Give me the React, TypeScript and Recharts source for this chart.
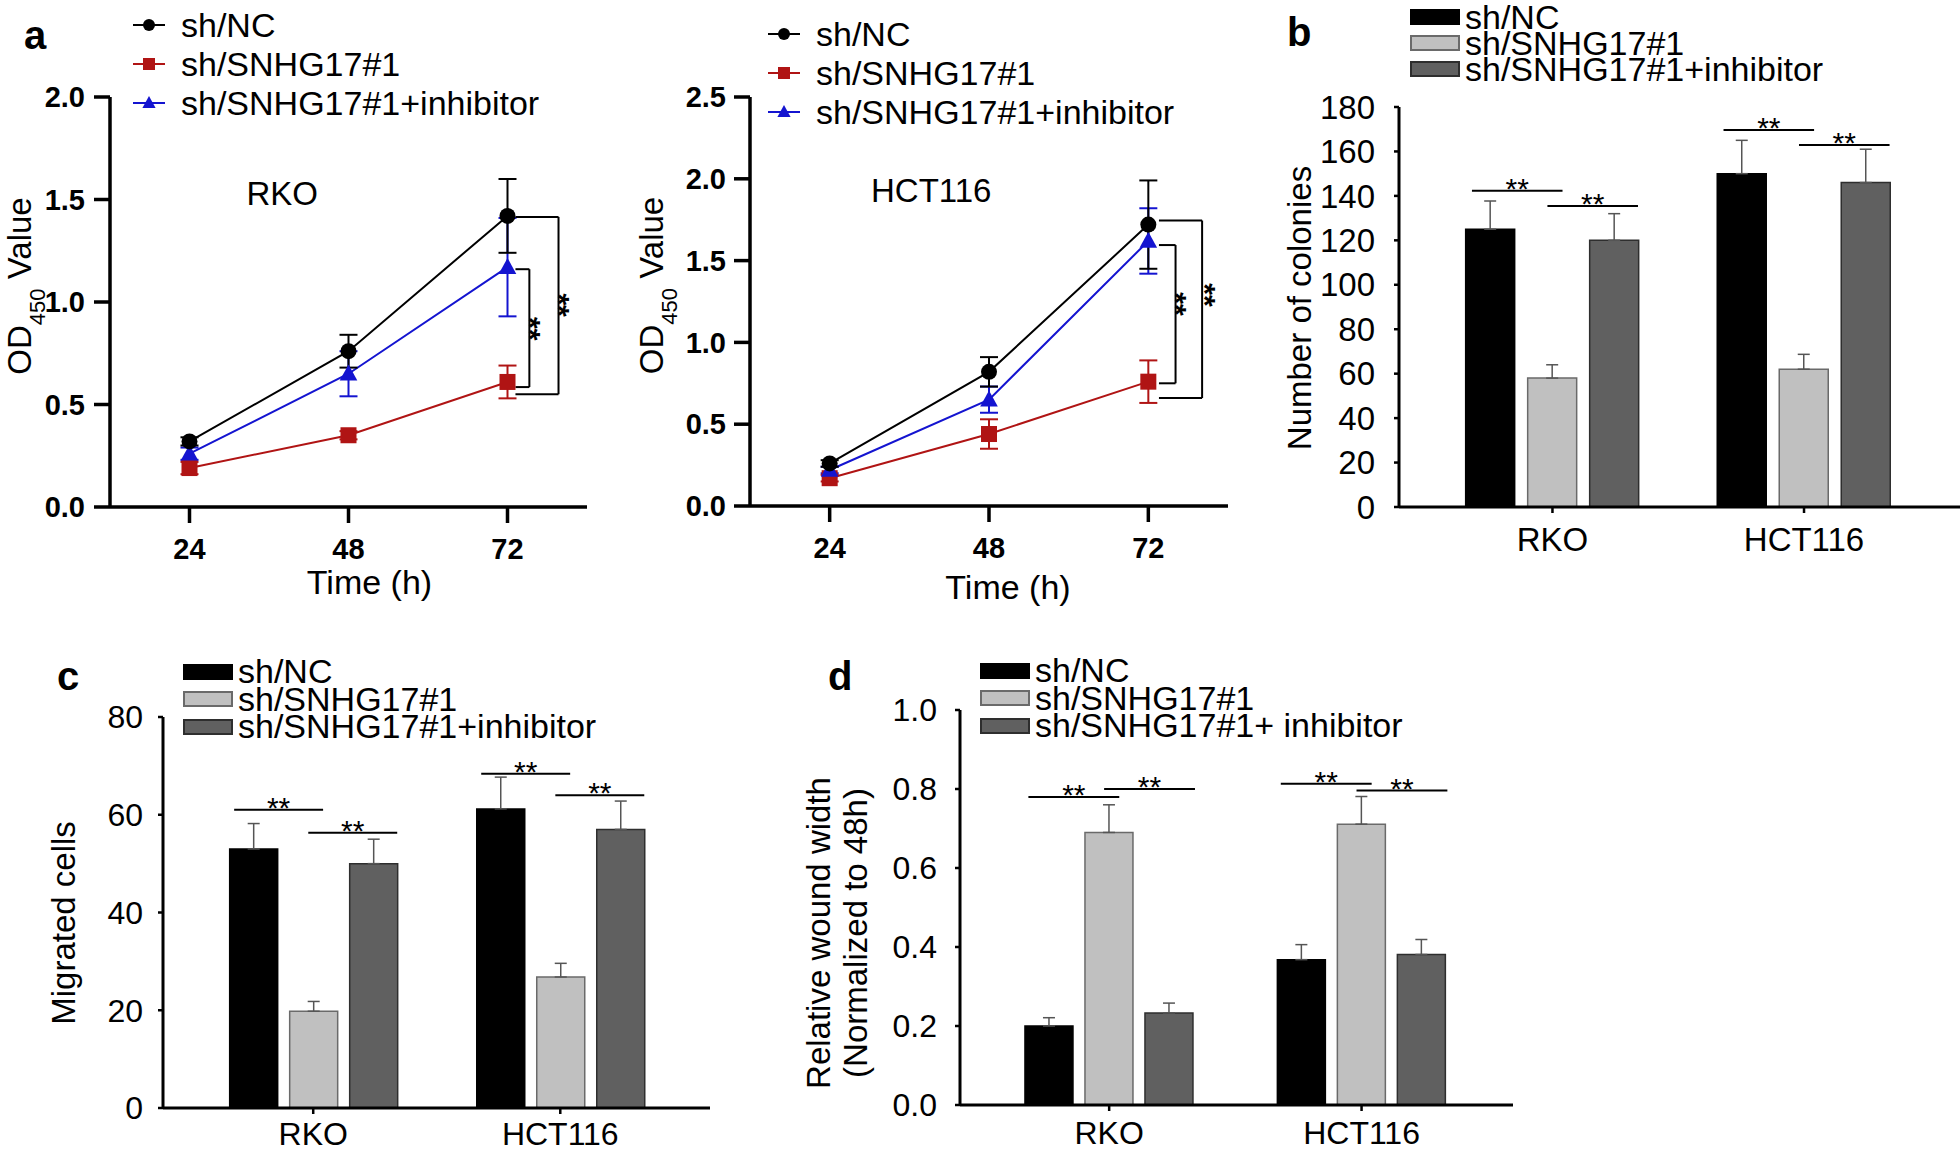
import React from 'react';
import {
  LineChart, Line, BarChart, Bar, XAxis, YAxis, ErrorBar, Legend, ReferenceLine, ReferenceDot,
} from 'recharts';

const FONT = '"Liberation Sans", Arial, Helvetica, sans-serif';

// panel a: OD450 growth curves
const hours = [24, 48, 72];

const rkoNc = [0.32, 0.76, 1.42];
const rkoNcSd = [0.02, 0.08, 0.18];
const rkoSh = [0.19, 0.35, 0.61];
const rkoShSd = [0.03, 0.02, 0.08];
const rkoInh = [0.26, 0.65, 1.17];
const rkoInhSd = [0.03, 0.11, 0.24];

const hctNc = [0.26, 0.82, 1.72];
const hctNcSd = [0.02, 0.09, 0.27];
const hctSh = [0.17, 0.44, 0.76];
const hctShSd = [0.02, 0.09, 0.13];
const hctInh = [0.22, 0.65, 1.62];
const hctInhSd = [0.02, 0.08, 0.2];

// panels b-d: bar charts
const cellLines = ['RKO', 'HCT116'];

const colonyNc = [125, 150];
const colonyNcSd = [12.7, 15];
const colonySh = [58, 62];
const colonyShSd = [6, 6.7];
const colonyInh = [120, 146];
const colonyInhSd = [12, 15];

const migNc = [53, 61.2];
const migNcSd = [5.2, 6.5];
const migSh = [19.8, 26.8];
const migShSd = [2, 2.8];
const migInh = [50, 57];
const migInhSd = [5, 5.8];

const woundNc = [0.2, 0.368];
const woundNcSd = [0.021, 0.038];
const woundSh = [0.69, 0.711];
const woundShSd = [0.07, 0.07];
const woundInh = [0.233, 0.381];
const woundInhSd = [0.025, 0.038];

// significance bar heights [first pair, second pair] per cell line
const colonySig = [[142.3, 135.5], [169.6, 162.9]];
const migSig = [[61, 56.3], [68.4, 64]];
const woundSig = [[0.78, 0.8], [0.813, 0.796]];
const sigSpans = [[-0.32, 0.04], [-0.02, 0.34]];

type Bracket = { x0: number; x1: number; top: number; bottom: number; star: [number, number] };

const rkoBrackets: Bracket[] = [
  { x0: 73.2, x1: 75.3, top: 1.16, bottom: 0.585, star: [76.5, 0.87] },
  { x0: 73.2, x1: 79.7, top: 1.415, bottom: 0.55, star: [80.9, 0.985] },
];
const hctBrackets: Bracket[] = [
  { x0: 73.6, x1: 76.1, top: 1.595, bottom: 0.75, star: [77.3, 1.235] },
  { x0: 73.6, x1: 80.1, top: 1.745, bottom: 0.66, star: [81.6, 1.29] },
];

const lineSeries = [
  { key: 'nc', name: 'sh/NC', color: '#000000', shape: 'circle' },
  { key: 'sh', name: 'sh/SNHG17#1', color: '#b01414', shape: 'square' },
  { key: 'inh', name: 'sh/SNHG17#1+inhibitor', color: '#1414d0', shape: 'triangle' },
];
const drawOrder = ['sh', 'inh', 'nc'];

const barSeries = [
  { key: 'nc', name: 'sh/NC', fill: '#000000', stroke: '#000000' },
  { key: 'sh', name: 'sh/SNHG17#1', fill: '#c0c0c0', stroke: '#6a6a6a' },
  { key: 'inh', name: 'sh/SNHG17#1+inhibitor', fill: '#606060', stroke: '#2e2e2e' },
];

function marker(shape: string, cx: number, cy: number, s: number, color: string, key?: any) {
  if (shape === 'circle') return <circle key={key} cx={cx} cy={cy} r={s} fill={color} />;
  if (shape === 'square') return <rect key={key} x={cx - s} y={cy - s} width={2 * s} height={2 * s} fill={color} />;
  return (
    <path key={key} d={`M${cx},${cy - s * 1.15}L${cx + s * 1.1},${cy + s * 0.85}L${cx - s * 1.1},${cy + s * 0.85}Z`} fill={color} />
  );
}

const starsVertical = (p: any) => {
  const { x, y, width, height } = p.viewBox;
  const cx = x + width / 2;
  const cy = y + height / 2;
  return (
    <text x={cx} y={cy} dy="0.57em" textAnchor="middle" transform={`rotate(90 ${cx} ${cy})`}
      fontSize={30} fontWeight={700} fontFamily={FONT} fill="#000">**</text>
  );
};

const starsAbove = (p: any) => {
  const { x, y, width } = p.viewBox;
  const cx = x + width / 2;
  const cy = y - 9;
  return (
    <text x={cx} y={cy} dy="0.57em" textAnchor="middle" fontSize={30} fontFamily={FONT} fill="#000">**</text>
  );
};

const titleLabel = (text: string) => (p: any) => {
  const { x, y, width, height } = p.viewBox;
  return (
    <text x={x + width / 2} y={y + height / 2} dy="0.36em" textAnchor="middle" fontSize={33} fontFamily={FONT} fill="#000">
      {text}
    </text>
  );
};

const odLabel = (bx: number, dy: number) => (p: any) => {
  const { x, y, height } = p.viewBox;
  const lx = x + bx;
  const ly = y + height / 2 + dy;
  return (
    <text x={lx} y={ly} transform={`rotate(-90 ${lx} ${ly})`} textAnchor="middle" fontSize={33} fontFamily={FONT} fill="#000">
      OD<tspan fontSize={22} dy={14}>450</tspan><tspan dy={-14}> Value</tspan>
    </text>
  );
};

const rotatedLabel = (lines: string[], xs: number[], dy: number) => (p: any) => {
  const { x, y, height } = p.viewBox;
  const cy = y + height / 2 + dy;
  return (
    <g>
      {lines.map((t, i) => (
        <text key={t} x={x + xs[i]} y={cy} transform={`rotate(-90 ${x + xs[i]} ${cy})`} textAnchor="middle"
          fontSize={33} fontFamily={FONT} fill="#000">{t}</text>
      ))}
    </g>
  );
};

const timeLabel = (dx: number, off: number) => (p: any) => {
  const { x, y, width, height } = p.viewBox;
  return (
    <text x={x + width / 2 + dx} y={y + height - off} textAnchor="middle" fontSize={34} fontFamily={FONT} fill="#000">
      Time (h)
    </text>
  );
};

const LineLegend = (p: any) => {
  const payload = p.payload || [];
  return (
    <div style={{ fontFamily: FONT, fontSize: 34, color: '#000' }}>
      {lineSeries.map((s) => {
        const item = payload.find((it: any) => it.dataKey === s.key);
        return (
          <div key={s.key} style={{ display: 'flex', alignItems: 'center', height: 39.3, whiteSpace: 'nowrap' }}>
            <svg width={32} height={20}>
              <line x1={0} y1={10} x2={32} y2={10} stroke={s.color} strokeWidth={2} />
              {marker(s.shape, 16, 10, 6, s.color)}
            </svg>
            <span style={{ marginLeft: 16, lineHeight: '38px' }}>{item ? item.value : s.name}</span>
          </div>
        );
      })}
    </div>
  );
};

const barLegend = (names: string[], rowH: number) => (p: any) => {
  const payload = p.payload || [];
  return (
    <div style={{ fontFamily: FONT, fontSize: 34, color: '#000' }}>
      {barSeries.map((s, i) => {
        const item = payload.find((it: any) => it.dataKey === s.key);
        return (
          <div key={s.key} style={{ display: 'flex', alignItems: 'center', height: rowH, whiteSpace: 'nowrap' }}>
            <span style={{ display: 'inline-block', width: 50, height: 16, background: s.fill,
              border: `2px solid ${s.stroke}`, boxSizing: 'border-box' }} />
            <span style={{ marginLeft: 5, lineHeight: `${rowH}px` }}>{names[i] || (item ? item.value : s.name)}</span>
          </div>
        );
      })}
    </div>
  );
};

type GrowthProps = {
  left: number; width: number; marginRight: number; marginBottom: number; yAxisWidth: number;
  yMax: number; yTicks: number[]; yTickMargin: number; title: string; titleAt: [number, number];
  legendTop: number; legendLeft: number; yLabelX: number; yLabelDy: number; timeDx: number; timeOff: number;
  nc: number[]; ncSd: number[]; sh: number[]; shSd: number[]; inh: number[]; inhSd: number[];
  brackets: Bracket[];
};

function GrowthPanel(g: GrowthProps) {
  const rows = hours.map((h, i) => ({
    h, nc: g.nc[i], ncSd: g.ncSd[i], sh: g.sh[i], shSd: g.shSd[i], inh: g.inh[i], inhSd: g.inhSd[i],
  }));
  const axisStyle = { stroke: '#000', strokeWidth: 3.5 };
  const tickFont = { fill: '#000', fontSize: 29, fontWeight: 700, fontFamily: FONT };
  return (
    <div style={{ position: 'absolute', left: g.left, top: 0 }}>
      <LineChart width={g.width} height={620} data={rows}
        margin={{ top: 97, right: g.marginRight, bottom: g.marginBottom, left: 0 }}>
        <XAxis type="number" dataKey="h" domain={[12, 84]} ticks={hours} allowDataOverflow interval={0}
          height={100} tickSize={16} tickMargin={15} axisLine={axisStyle} tickLine={axisStyle} tick={tickFont}
          label={timeLabel(g.timeDx, g.timeOff)} />
        <YAxis type="number" domain={[0, g.yMax]} ticks={g.yTicks} allowDataOverflow interval={0}
          width={g.yAxisWidth} tickSize={16} tickMargin={g.yTickMargin} axisLine={axisStyle} tickLine={axisStyle}
          tick={tickFont} tickFormatter={(v: number) => v.toFixed(1)} label={odLabel(g.yLabelX, g.yLabelDy)} />
        {drawOrder.map((k) => {
          const s = lineSeries.find((x) => x.key === k)!;
          return (
            <Line key={k} dataKey={k} name={s.name} stroke={s.color} strokeWidth={2} isAnimationActive={false}
              activeDot={false} dot={(p: any) => marker(s.shape, p.cx, p.cy, 8, s.color, p.index)}>
              <ErrorBar dataKey={`${k}Sd`} direction="y" width={9} strokeWidth={2} stroke={s.color} />
            </Line>
          );
        })}
        {g.brackets.map((b, i) => [
          <ReferenceLine key={`t${i}`} segment={[{ x: b.x0, y: b.top }, { x: b.x1, y: b.top }]}
            stroke="#000" strokeWidth={2} ifOverflow="visible" />,
          <ReferenceLine key={`v${i}`} segment={[{ x: b.x1, y: b.top }, { x: b.x1, y: b.bottom }]}
            stroke="#000" strokeWidth={2} ifOverflow="visible" />,
          <ReferenceLine key={`b${i}`} segment={[{ x: b.x0, y: b.bottom }, { x: b.x1, y: b.bottom }]}
            stroke="#000" strokeWidth={2} ifOverflow="visible" />,
          <ReferenceDot key={`s${i}`} x={b.star[0]} y={b.star[1]} r={1} fill="none" stroke="none"
            ifOverflow="visible" label={starsVertical} />,
        ])}
        <ReferenceDot x={g.titleAt[0]} y={g.titleAt[1]} r={1} fill="none" stroke="none" label={titleLabel(g.title)} />
        <Legend layout="horizontal" verticalAlign="middle" align="center" content={LineLegend}
          wrapperStyle={{ top: g.legendTop, left: g.legendLeft, width: 'auto', height: 'auto' }} />
      </LineChart>
    </div>
  );
}

type BarProps = {
  left: number; top: number; width: number; height: number;
  margin: { top: number; right: number; bottom: number; left: number };
  yAxisWidth: number; xHeight: number; xDomain: [number, number]; yMax: number; yTicks: number[];
  yFmt: (v: number) => string; yTickMargin: number; xTickMargin: number; fontSize: number;
  barSize: number; barGap: number;
  nc: number[]; ncSd: number[]; sh: number[]; shSd: number[]; inh: number[]; inhSd: number[];
  sig: number[][]; legendTop: number; legendLeft: number; legendRow: number; legendNames: string[];
  yLabel: { lines: string[]; xs: number[]; dy: number };
};

function BarPanel(b: BarProps) {
  const rows = cellLines.map((name, i) => ({
    pos: i + 1, name,
    nc: b.nc[i], ncSd: [0, b.ncSd[i]],
    sh: b.sh[i], shSd: [0, b.shSd[i]],
    inh: b.inh[i], inhSd: [0, b.inhSd[i]],
  }));
  const tickFont = { fill: '#000', fontSize: b.fontSize, fontFamily: FONT };
  return (
    <div style={{ position: 'absolute', left: b.left, top: b.top }}>
      <BarChart width={b.width} height={b.height} data={rows} margin={b.margin} barSize={b.barSize} barGap={b.barGap}>
        <XAxis type="number" dataKey="pos" domain={b.xDomain} ticks={[1, 2]} allowDataOverflow interval={0}
          tickFormatter={(v: number) => cellLines[v - 1]} height={b.xHeight} tickSize={6} tickMargin={b.xTickMargin}
          axisLine={{ stroke: '#000', strokeWidth: 3 }} tickLine={{ stroke: '#000', strokeWidth: 2.5 }} tick={tickFont} />
        <YAxis type="number" domain={[0, b.yMax]} ticks={b.yTicks} allowDataOverflow interval={0}
          width={b.yAxisWidth} tickSize={5} tickMargin={b.yTickMargin} tickFormatter={b.yFmt}
          axisLine={{ stroke: '#000', strokeWidth: 3 }} tickLine={{ stroke: '#000', strokeWidth: 2.5 }} tick={tickFont}
          label={rotatedLabel(b.yLabel.lines, b.yLabel.xs, b.yLabel.dy)} />
        {barSeries.map((s) => (
          <Bar key={s.key} dataKey={s.key} name={s.name} fill={s.fill} stroke={s.stroke} strokeWidth={1.5}
            isAnimationActive={false}>
            <ErrorBar dataKey={`${s.key}Sd`} direction="y" width={6} strokeWidth={1.5} stroke="#555" />
          </Bar>
        ))}
        {b.sig.map((pair, ci) => pair.map((yv, j) => (
          <ReferenceLine key={`g${ci}${j}`}
            segment={[{ x: ci + 1 + sigSpans[j][0], y: yv }, { x: ci + 1 + sigSpans[j][1], y: yv }]}
            stroke="#000" strokeWidth={2} ifOverflow="visible" label={starsAbove} />
        )))}
        <Legend layout="horizontal" verticalAlign="middle" align="center" content={barLegend(b.legendNames, b.legendRow)}
          wrapperStyle={{ top: b.legendTop, left: b.legendLeft, width: 'auto', height: 'auto' }} />
      </BarChart>
    </div>
  );
}

const panelLetters = [
  { t: 'a', x: 24, y: 49 },
  { t: 'b', x: 1287, y: 46 },
  { t: 'c', x: 57, y: 690 },
  { t: 'd', x: 828, y: 690 },
];

export default function App() {
  return (
    <div style={{ position: 'absolute', left: 0, top: 0, width: 1960, height: 1152, background: '#fff', fontFamily: FONT }}>
      <GrowthPanel left={0} width={600} marginRight={13} marginBottom={13} yAxisWidth={110}
        yMax={2} yTicks={[0, 0.5, 1, 1.5, 2]} yTickMargin={9} title="RKO" titleAt={[38, 1.53]}
        legendTop={5} legendLeft={133} yLabelX={31} yLabelDy={-16} timeDx={21} timeOff={13}
        nc={rkoNc} ncSd={rkoNcSd} sh={rkoSh} shSd={rkoShSd} inh={rkoInh} inhSd={rkoInhSd} brackets={rkoBrackets} />
      <GrowthPanel left={620} width={620} marginRight={12} marginBottom={14} yAxisWidth={130}
        yMax={2.5} yTicks={[0, 0.5, 1, 1.5, 2, 2.5]} yTickMargin={8} title="HCT116" titleAt={[39.3, 1.93]}
        legendTop={14} legendLeft={148} yLabelX={43} yLabelDy={-16} timeDx={19} timeOff={7}
        nc={hctNc} ncSd={hctNcSd} sh={hctSh} shSd={hctShSd} inh={hctInh} inhSd={hctInhSd} brackets={hctBrackets} />
      <BarPanel left={1260} top={0} width={700} height={620} margin={{ top: 107, right: 0, bottom: 33, left: 0 }}
        yAxisWidth={139} xHeight={80} xDomain={[0.39, 2.62]} yMax={180} yTicks={[0, 20, 40, 60, 80, 100, 120, 140, 160, 180]}
        yFmt={(v) => String(v)} yTickMargin={19} xTickMargin={15} fontSize={33} barSize={49} barGap={13}
        nc={colonyNc} ncSd={colonyNcSd} sh={colonySh} shSd={colonyShSd} inh={colonyInh} inhSd={colonyInhSd}
        sig={colonySig} legendTop={4} legendLeft={150} legendRow={26}
        legendNames={['sh/NC', 'sh/SNHG17#1', 'sh/SNHG17#1+inhibitor']}
        yLabel={{ lines: ['Number of colonies'], xs: [51], dy: 1 }} />
      <BarPanel left={0} top={640} width={720} height={512} margin={{ top: 77, right: 10, bottom: 0, left: 0 }}
        yAxisWidth={163} xHeight={44} xDomain={[0.392, 2.606]} yMax={80} yTicks={[0, 20, 40, 60, 80]}
        yFmt={(v) => String(v)} yTickMargin={15} xTickMargin={8} fontSize={32} barSize={48} barGap={12}
        nc={migNc} ncSd={migNcSd} sh={migSh} shSd={migShSd} inh={migInh} inhSd={migInhSd}
        sig={migSig} legendTop={18} legendLeft={183} legendRow={27.5}
        legendNames={['sh/NC', 'sh/SNHG17#1', 'sh/SNHG17#1+inhibitor']}
        yLabel={{ lines: ['Migrated cells'], xs: [75], dy: 10.5 }} />
      <BarPanel left={780} top={640} width={760} height={512} margin={{ top: 70, right: 27, bottom: 0, left: 0 }}
        yAxisWidth={180} xHeight={47} xDomain={[0.409, 2.6]} yMax={1} yTicks={[0, 0.2, 0.4, 0.6, 0.8, 1]}
        yFmt={(v) => v.toFixed(1)} yTickMargin={18} xTickMargin={10} fontSize={32} barSize={48} barGap={12}
        nc={woundNc} ncSd={woundNcSd} sh={woundSh} shSd={woundShSd} inh={woundInh} inhSd={woundInhSd}
        sig={woundSig} legendTop={17} legendLeft={200} legendRow={27.5}
        legendNames={['sh/NC', 'sh/SNHG17#1', 'sh/SNHG17#1+ inhibitor']}
        yLabel={{ lines: ['Relative wound width', '(Normalized to 48h)'], xs: [50, 87], dy: 25.5 }} />
      <svg width={1960} height={1152} style={{ position: 'absolute', left: 0, top: 0, pointerEvents: 'none' }}>
        {panelLetters.map((l) => (
          <text key={l.t} x={l.x} y={l.y} fontSize={40} fontWeight={700} fontFamily={FONT} fill="#000">{l.t}</text>
        ))}
      </svg>
    </div>
  );
}
